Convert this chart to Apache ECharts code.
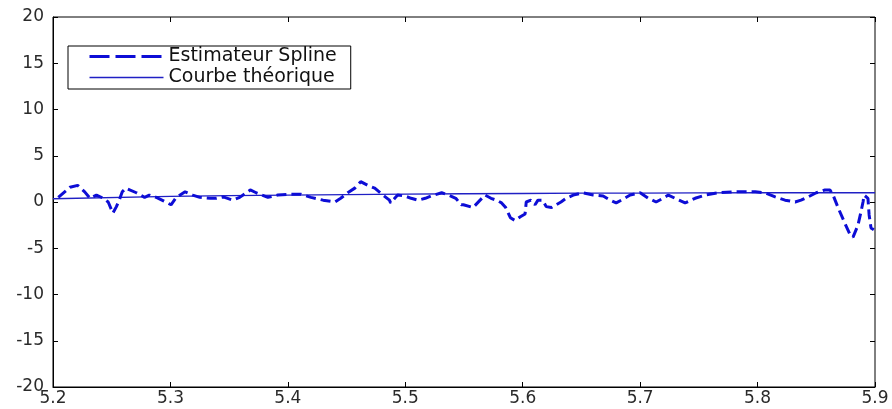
<!DOCTYPE html>
<html>
<head>
<meta charset="utf-8">
<script src="https://cdn.jsdelivr.net/npm/echarts@6/dist/echarts.min.js"></script>
<style>
  html, body { margin: 0; padding: 0; background: #fff; }
  #chart { width: 892px; height: 409px; }
</style>
</head>
<body>
<div id="chart"></div>
<script>
// spline estimator
const estX = [5.2045, 5.2145, 5.221, 5.227, 5.2315, 5.237, 5.243, 5.247, 5.251, 5.254, 5.257, 5.259, 5.262,
  5.271, 5.278, 5.282, 5.288, 5.2945, 5.3005, 5.305, 5.3125, 5.319, 5.325, 5.334, 5.339, 5.345, 5.353, 5.359,
  5.368, 5.373, 5.383, 5.3915, 5.4027, 5.411, 5.4197, 5.43, 5.440, 5.445, 5.451, 5.457, 5.462, 5.468, 5.474,
  5.481, 5.4865, 5.4875, 5.491, 5.4935, 5.4997, 5.505, 5.511, 5.517, 5.522, 5.531, 5.537, 5.543, 5.5476,
  5.5495, 5.5577, 5.5637, 5.568, 5.573, 5.5775, 5.582, 5.5855, 5.5895, 5.5935, 5.598, 5.602, 5.603, 5.607,
  5.6105, 5.613, 5.617, 5.62, 5.6245, 5.6285, 5.6326, 5.637, 5.643, 5.6513, 5.66, 5.6685, 5.6745, 5.6796,
  5.684, 5.6915, 5.7, 5.707, 5.7136, 5.7195, 5.724, 5.733, 5.7383, 5.7468, 5.7554, 5.7665, 5.7808, 5.798,
  5.8065, 5.815, 5.8234, 5.832, 5.837, 5.843, 5.85, 5.8574, 5.8617, 5.8643, 5.8685, 5.874, 5.8783, 5.8813,
  5.8855, 5.888, 5.8898, 5.8907, 5.894, 5.895, 5.8966, 5.899];
const estY = [0.5, 1.6, 1.8, 1.1, 0.4, 0.75, 0.4, 0.0, -1.2, -0.5, 0.4, 1.1, 1.5,
  1.0, 0.5, 0.75, 0.5, 0.1, -0.3, 0.5, 1.1, 0.75, 0.5, 0.4, 0.4, 0.55, 0.2, 0.5,
  1.3, 1.0, 0.5, 0.75, 0.85, 0.85, 0.5, 0.2, 0.0, 0.4, 1.0, 1.5, 2.2, 1.8, 1.5,
  0.75, 0.2, -0.1, 0.4, 0.75, 0.65, 0.4, 0.2, 0.4, 0.65, 1.0, 0.75, 0.4, -0.3,
  -0.3, -0.6, 0.2, 0.75, 0.4, 0.2, -0.1, -0.6, -1.7, -2.0, -1.6, -1.3, 0.0, 0.2,
  -0.3, 0.2, 0.2, -0.5, -0.6, -0.3, 0.0, 0.4, 0.75, 1.0, 0.75, 0.65, 0.2, -0.1,
  0.2, 0.75, 1.0, 0.4, 0.0, 0.4, 0.75, 0.2, -0.1, 0.4, 0.75, 1.0, 1.1, 1.1,
  1.0, 0.55, 0.2, 0.0, 0.2, 0.55, 1.0, 1.3, 1.3, 0.75, -0.6, -2.2, -3.4, -3.8,
  -2.5, -1.1, 0.0, 0.75, 0.4, -1.4, -2.8, -3.0];

// theoretical curve
const theoX = [5.2, 5.3, 5.4, 5.5, 5.6, 5.7, 5.8, 5.9];
const theoY = [0.35, 0.6, 0.75, 0.85, 0.92, 0.97, 1.0, 1.0];

const xTicks = [5.2, 5.3, 5.4, 5.5, 5.6, 5.7, 5.8, 5.9];
const yTicks = [-20, -15, -10, -5, 0, 5, 10, 15, 20];

const estName = 'Estimateur Spline';
const theoName = 'Courbe théorique';

const chart = echarts.init(document.getElementById('chart'));

const fontFam = 'DejaVu Sans, Verdana, sans-serif';
const labelStyle = { color: '#2a2a2a', fontSize: 17, fontFamily: fontFam };
const blue = '#0d0dd6';
const theoBlue = '#2020c4';

chart.setOption({
  animation: false,
  backgroundColor: '#fff',
  grid: { left: 53, right: 17, top: 17, bottom: 22, show: true, borderColor: '#000', borderWidth: 1 },
  legend: {
    orient: 'vertical',
    left: 68,
    top: 46,
    backgroundColor: '#fff',
    borderColor: '#000',
    borderWidth: 1,
    borderRadius: 0,
    padding: [1, 14, 2, 20],
    itemGap: 2,
    itemWidth: 74,
    itemHeight: 19,
    itemStyle: { opacity: 0 },
    textStyle: { color: '#111', fontSize: 19, fontFamily: fontFam, lineHeight: 19 },
    data: [
      { name: estName, lineStyle: { color: blue, width: 3, type: [20, 6] } },
      { name: theoName, lineStyle: { color: theoBlue, width: 1.3 } }
    ]
  },
  xAxis: [{
    type: 'value',
    min: xTicks[0],
    max: xTicks[xTicks.length - 1],
    interval: 0.1,
    axisLine: { show: true, onZero: false, lineStyle: { color: '#000' } },
    axisTick: { inside: true, length: 5, lineStyle: { color: '#000' } },
    axisLabel: { ...labelStyle, margin: 3, formatter: v => v.toFixed(1) },
    splitLine: { show: false }
  }, {
    type: 'value',
    position: 'top',
    min: xTicks[0],
    max: xTicks[xTicks.length - 1],
    interval: 0.1,
    axisLine: { show: false, onZero: false },
    axisTick: { inside: true, length: 5, lineStyle: { color: '#000' } },
    axisLabel: { show: false },
    splitLine: { show: false }
  }],
  yAxis: [{
    type: 'value',
    min: yTicks[0],
    max: yTicks[yTicks.length - 1],
    interval: 5,
    axisLine: { show: true, onZero: false, lineStyle: { color: '#000' } },
    axisTick: { inside: true, length: 5, lineStyle: { color: '#000' } },
    axisLabel: { ...labelStyle, margin: 9 },
    splitLine: { show: false }
  }, {
    type: 'value',
    position: 'right',
    min: yTicks[0],
    max: yTicks[yTicks.length - 1],
    interval: 5,
    axisLine: { show: false, onZero: false },
    axisTick: { inside: true, length: 5, lineStyle: { color: '#000' } },
    axisLabel: { show: false },
    splitLine: { show: false }
  }],
  series: [{
    name: estName,
    type: 'line',
    data: estX.map((x, i) => [x, estY[i]]),
    showSymbol: false,
    symbol: 'none',
    lineStyle: { color: blue, width: 3, type: [10, 5] },
    itemStyle: { color: blue },
    z: 3
  }, {
    name: theoName,
    type: 'line',
    data: theoX.map((x, i) => [x, theoY[i]]),
    smooth: true,
    showSymbol: false,
    symbol: 'none',
    lineStyle: { color: theoBlue, width: 1.3 },
    itemStyle: { color: theoBlue },
    z: 2
  }]
});
</script>
</body>
</html>
